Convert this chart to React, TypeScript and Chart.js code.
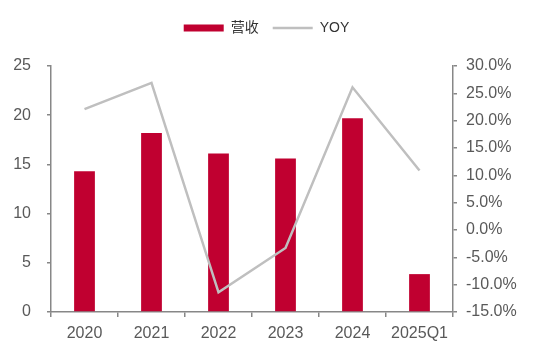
import React, { useEffect, useRef } from "react";
import { Chart, registerables } from "chart.js";

Chart.register(...registerables);

const categories = ["2020", "2021", "2022", "2023", "2024", "2025Q1"];
const revenue = [14.3, 18.2, 16.1, 15.6, 19.7, 3.85];
const yoy = [22.1, 26.9, -11.4, -3.3, 26.1, 10.9];
const leftTicks = [0, 5, 10, 15, 20, 25];
const rightTicks = [-15, -10, -5, 0, 5, 10, 15, 20, 25, 30];

const AXIS = "#878787";
const TICKTXT = "#595959";
const FONT = "'Liberation Sans', Arial, 'Noto Sans CJK SC', sans-serif";

const legendSpacer = {
  id: "legendSpacer",
  beforeInit(chart: any) {
    const fit = chart.legend.fit;
    chart.legend.fit = function () {
      fit.bind(chart.legend)();
      this.height += 21;
    };
  },
};

export default function App() {
  const ref = useRef<HTMLCanvasElement | null>(null);
  useEffect(() => {
    document.body.style.margin = "0";
    const ctx = ref.current!;
    const chart = new Chart(ctx, {
      type: "bar",
      plugins: [legendSpacer],
      data: {
        labels: categories,
        datasets: [
          {
            type: "line",
            label: "YOY",
            data: yoy,
            yAxisID: "y1",
            borderColor: "#BFBFBF",
            backgroundColor: "#BFBFBF",
            borderWidth: 2.5,
            pointRadius: 0,
            tension: 0,
            pointStyle: "line",
          } as any,
          {
            type: "bar",
            label: "营收",
            data: revenue,
            yAxisID: "y",
            backgroundColor: "#C00030",
            borderWidth: 0,
            barPercentage: 0.31,
            categoryPercentage: 1,
            pointStyle: "rect",
          } as any,
        ],
      },
      options: {
        animation: false,
        responsive: false,
        layout: { padding: { top: 7, left: 0, right: 0, bottom: 0 } },
        plugins: {
          tooltip: { enabled: false },
          legend: {
            position: "top",
            labels: {
              usePointStyle: true,
              pointStyleWidth: 40,
              boxHeight: 7,
              padding: 14,
              color: "#333333",
              font: { size: 14, family: FONT },
              sort: (a: any, b: any) => b.datasetIndex - a.datasetIndex,
              generateLabels: (chart: any) => {
                const ds = chart.data.datasets;
                return ds.map((d: any, i: number) => ({
                  text: d.label,
                  fillStyle: i === 1 ? "#C00030" : "#BFBFBF",
                  strokeStyle: i === 1 ? "#C00030" : "#BFBFBF",
                  lineWidth: i === 1 ? 0 : 2.5,
                  pointStyle: i === 1 ? "rect" : "line",
                  datasetIndex: i,
                  hidden: false,
                  fontColor: "#333333",
                }));
              },
            },
          },
        },
        scales: {
          x: {
            offset: true,
            grid: {
              display: true,
              drawOnChartArea: false,
              drawTicks: true,
              tickLength: 5,
              color: AXIS,
              lineWidth: 1.5,
              offset: true,
            },
            border: { display: true, color: AXIS, width: 1.5 },
            ticks: { color: TICKTXT, font: { size: 16, family: FONT }, padding: 7, maxRotation: 0 },
            afterFit: (s: any) => {
              s.height = 42;
            },
          },
          y: {
            position: "left",
            min: 0,
            max: 25,
            afterBuildTicks: (s: any) => {
              s.ticks = leftTicks.map((v) => ({ value: v }));
            },
            grid: {
              display: true,
              drawOnChartArea: false,
              drawTicks: true,
              tickLength: 4,
              color: AXIS,
              lineWidth: 1.5,
            },
            border: { display: true, color: AXIS, width: 1.5 },
            ticks: { color: TICKTXT, font: { size: 16, family: FONT }, padding: 16 },
            afterFit: (s: any) => {
              s.width = 51;
            },
          },
          y1: {
            position: "right",
            min: -15,
            max: 30,
            afterBuildTicks: (s: any) => {
              s.ticks = rightTicks.map((v) => ({ value: v }));
            },
            grid: {
              display: true,
              drawOnChartArea: false,
              drawTicks: true,
              tickLength: 4,
              color: AXIS,
              lineWidth: 1.5,
            },
            border: { display: true, color: AXIS, width: 1.5 },
            ticks: {
              color: TICKTXT,
              font: { size: 16, family: FONT },
              padding: 9,
              callback: (v: any) => Number(v).toFixed(1) + "%",
            },
            afterFit: (s: any) => {
              s.width = 80;
            },
          },
        },
      },
    });
    return () => chart.destroy();
  }, []);
  return (
    <div style={{ width: 533, height: 354, background: "#fff" }}>
      <canvas ref={ref} width={533} height={354} />
    </div>
  );
}
